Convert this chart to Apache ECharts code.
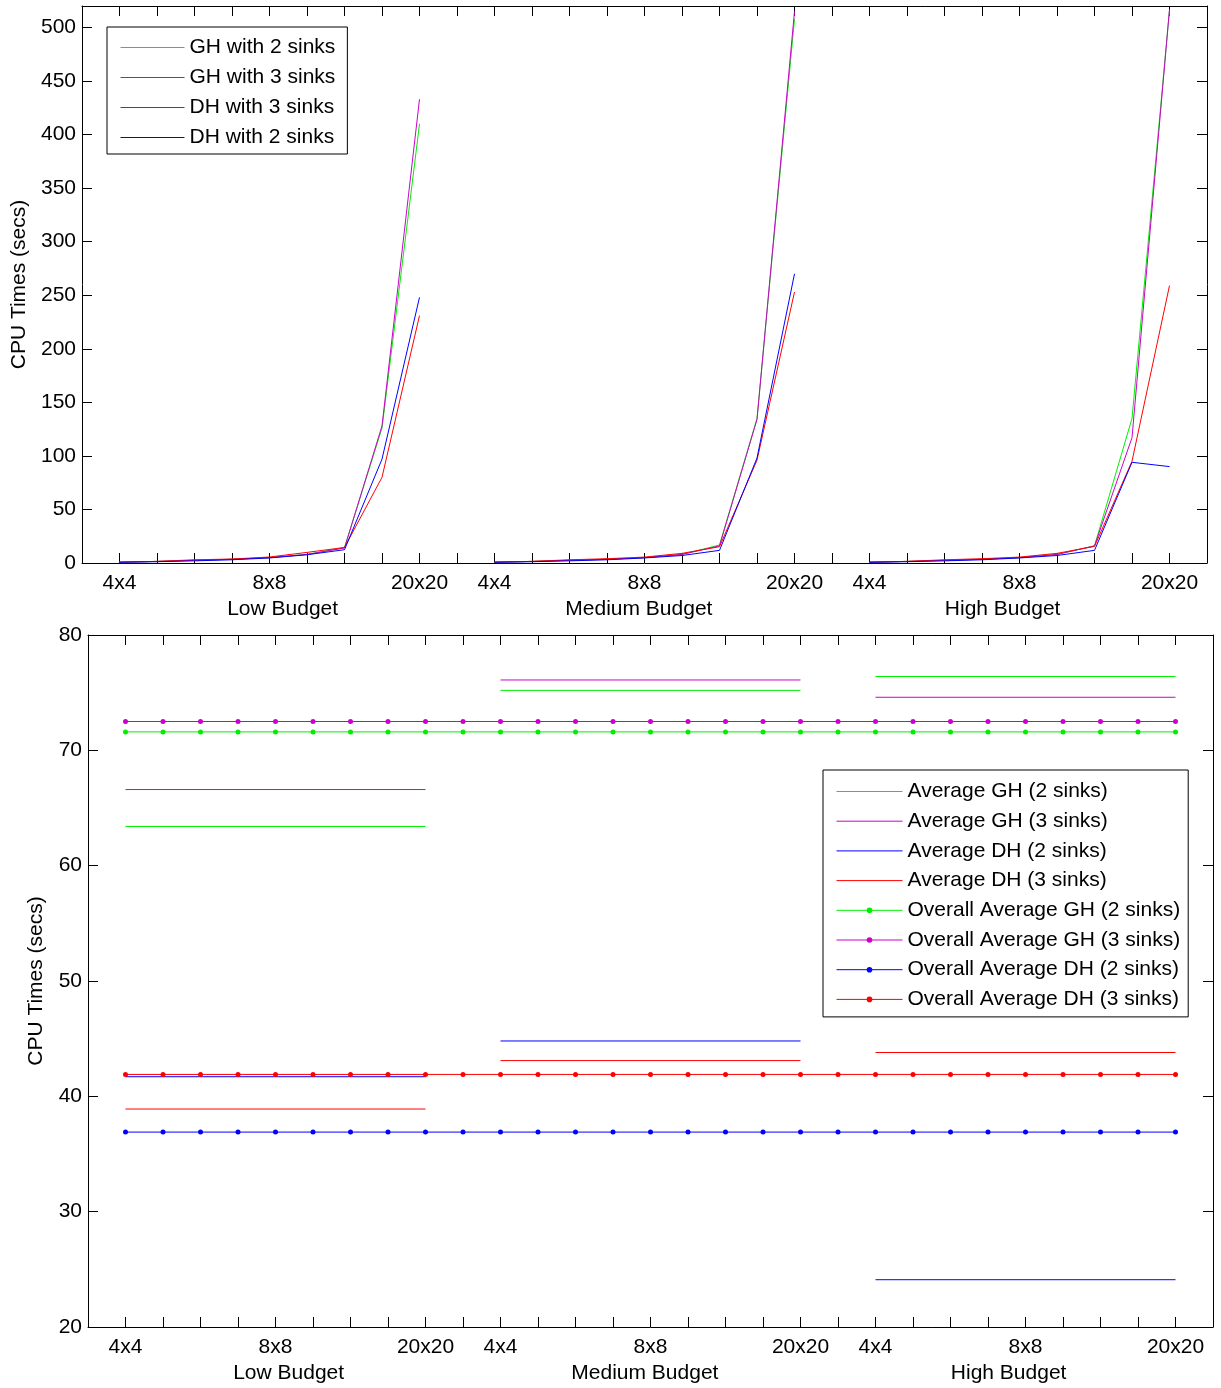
<!DOCTYPE html>
<html><head><meta charset="utf-8">
<script src="https://cdn.jsdelivr.net/npm/echarts@6/dist/echarts.min.js"></script>
<style>html,body{margin:0;padding:0;background:#fff}#c{width:1221px;height:1388px}</style>
</head><body><div id="c"></div>
<script>
// ---- categories / tick labels ----
const sizeLabels = ['4x4', '', '', '', '8x8', '', '', '', '20x20'];
const budgetNames = ['Low Budget', 'Medium Budget', 'High Budget'];
const budgetLabelPos = [4.35, 13.85, 23.55];

// ---- top chart: CPU times per grid size (9 steps per budget) ----
const gh2Low    = [0.8, 1.5, 2.5, 3.5, 5, 8, 14.5, 126, 410];
const gh3Low    = [0.8, 1.5, 2.5, 3.5, 5, 8, 14, 128, 433];
const dh3Low    = [0.8, 1.5, 3, 3.7, 5.6, 9.9, 14.5, 80, 231];
const dh2Low    = [0.7, 1.2, 2, 3, 4.7, 7.7, 12.4, 97, 248];
const gh2Medium = [0.8, 1.5, 2.5, 3.5, 5, 8, 16.8, 135, 508];
const gh3Medium = [0.8, 1.5, 2.5, 3.5, 5, 8, 16, 134, 515];
const dh3Medium = [0.8, 1.5, 3, 4, 5.5, 9, 15.2, 96, 253];
const dh2Medium = [0.7, 1.2, 2, 3, 4.7, 7, 11.8, 98, 270];
const gh2High   = [0.8, 1.5, 2.5, 3.5, 5, 8, 16, 135, 516];
const gh3High   = [0.8, 1.5, 2.5, 3.5, 5, 8, 16, 117, 517];
const dh3High   = [0.8, 1.5, 3, 4, 5.5, 9, 15.5, 95, 259];
const dh2High   = [0.7, 1.2, 2, 3, 4.7, 7, 11.8, 94, 90];

// ---- bottom chart: averages per budget (Low, Medium, High) ----
const avgGH2 = [63.4, 75.2, 76.4];
const avgGH3 = [66.6, 76.1, 74.6];
const avgDH2 = [41.7, 44.8, 24.1];
const avgDH3 = [38.9, 43.1, 43.8];
const overallGH2 = 71.6;
const overallGH3 = 72.5;
const overallDH2 = 36.9;
const overallDH3 = 41.9;

const GREEN = '#00ee00', MAGENTA = '#cc00cc', RED = '#ff0000', BLUE = '#0000ff';
const FONT = 'Liberation Sans, Arial, Helvetica, sans-serif';
const NSTEP = sizeLabels.length;      // 9
const GSTEP = NSTEP + 1;              // 10 (one gap between budgets)
const XMAX = GSTEP * 2 + NSTEP;       // 29

function groupSeriesData(groups) {
  const out = [];
  groups.forEach((arr, g) => {
    arr.forEach((v, i) => out.push([g * GSTEP + i, v]));
    if (g < groups.length - 1) out.push([g * GSTEP + NSTEP, '-']);
  });
  return out;
}
function avgSegments(avgs) {
  const out = [];
  avgs.forEach((v, g) => {
    out.push([g * GSTEP, v]);
    out.push([g * GSTEP + NSTEP - 1, v]);
    if (g < avgs.length - 1) out.push([g * GSTEP + NSTEP, '-']);
  });
  return out;
}
function overallLine(v) {
  const out = [];
  for (let x = 0; x < XMAX; x++) out.push([x, v]);
  return out;
}
function sizeLabel(v) {
  const r = Math.round(v);
  if (r < 0) return '';
  const i = r % GSTEP;
  return i < NSTEP ? sizeLabels[i] : '';
}
function budgetLabel(v) {
  let best = 0;
  budgetLabelPos.forEach((p, k) => { if (Math.abs(p - v) < Math.abs(budgetLabelPos[best] - v)) best = k; });
  return budgetNames[best];
}

const axisLineStyle = { color: '#000', width: 1 };
const labelStyle = { color: '#000', fontSize: 21, fontFamily: FONT };

function xAxes(gridIndex) {
  return [
    { gridIndex, type: 'value', min: -1, max: XMAX, interval: 1, position: 'bottom',
      axisLine: { onZero: false, lineStyle: axisLineStyle },
      axisTick: { inside: true, length: 10, lineStyle: axisLineStyle },
      axisLabel: Object.assign({ margin: 10, formatter: sizeLabel, showMinLabel: true, showMaxLabel: true }, labelStyle),
      splitLine: { show: false } },
    { gridIndex, type: 'value', min: -1, max: XMAX, interval: 1, position: 'top',
      axisLine: { onZero: false, lineStyle: axisLineStyle },
      axisTick: { inside: true, length: 10, lineStyle: axisLineStyle },
      axisLabel: { show: false }, splitLine: { show: false } },
    { gridIndex, type: 'value', min: -1, max: XMAX, position: 'bottom',
      axisLine: { show: false }, axisTick: { show: false }, splitLine: { show: false },
      axisLabel: Object.assign({ margin: 36, customValues: budgetLabelPos, formatter: budgetLabel }, labelStyle) }
  ];
}
function yAxes(gridIndex, min, max, interval, nameGap) {
  return [
    { gridIndex, type: 'value', min, max, interval, position: 'left',
      name: 'CPU Times (secs)', nameLocation: 'middle', nameGap,
      nameTextStyle: { color: '#000', fontSize: 21, fontFamily: FONT },
      axisLine: { show: true, onZero: false, lineStyle: axisLineStyle },
      axisTick: { show: true, inside: true, length: 10, lineStyle: axisLineStyle },
      axisLabel: Object.assign({ margin: 6, formatter: v => (v % interval === 0 ? String(v) : '') }, labelStyle),
      splitLine: { show: false } },
    { gridIndex, type: 'value', min, max, interval, position: 'right',
      axisLine: { show: true, onZero: false, lineStyle: axisLineStyle },
      axisTick: { show: true, inside: true, length: 10, lineStyle: axisLineStyle },
      axisLabel: { show: false }, splitLine: { show: false } }
  ];
}

function lineSeries(name, color, data, xi, yi, dots) {
  return {
    name, type: 'line', xAxisIndex: xi, yAxisIndex: yi, data,
    color, lineStyle: { color, width: 1 },
    itemStyle: { color, borderWidth: 0 },
    symbol: 'circle', symbolSize: 5, showSymbol: !!dots,
    connectNulls: false, animation: false, silent: true, clip: true
  };
}

const topNames = ['GH with 2 sinks', 'GH with 3 sinks', 'DH with 3 sinks', 'DH with 2 sinks'];
const topColors = [GREEN, MAGENTA, RED, BLUE];
const botNames = ['Average GH (2 sinks)', 'Average GH (3 sinks)', 'Average DH (2 sinks)', 'Average DH (3 sinks)',
  'Overall Average GH (2 sinks)', 'Overall Average GH (3 sinks)', 'Overall Average DH (2 sinks)', 'Overall Average DH (3 sinks)'];
const botColors = [GREEN, MAGENTA, BLUE, RED, GREEN, MAGENTA, BLUE, RED];

function legendItem(name, color, dot) {
  return {
    name,
    itemStyle: dot ? { color, borderWidth: 0, opacity: 1 } : { color, borderWidth: 0, opacity: 0 },
    lineStyle: { color, width: 1, opacity: 1 }
  };
}
const legendText = { color: '#000', fontSize: 21, lineHeight: 21, fontFamily: FONT };

const option = {
  backgroundColor: '#fff',
  animation: false,
  textStyle: { fontFamily: FONT },
  grid: [
    { left: 82, right: 14, top: 6, height: 557, containLabel: false },
    { left: 88, right: 8, top: 635, height: 692, containLabel: false }
  ],
  xAxis: xAxes(0).concat(xAxes(1)),
  yAxis: yAxes(0, 0, 520, 50, 52).concat(yAxes(1, 20, 80, 10, 41)),
  legend: [
    { orient: 'vertical', left: 107, top: 27, padding: [10, 12, 6, 13],
      borderColor: '#000', borderWidth: 1, backgroundColor: '#fff',
      itemWidth: 64, itemHeight: 7, itemGap: 9,
      textStyle: legendText, lineStyle: { width: 1 },
      data: topNames.map((n, k) => legendItem(n, topColors[k], false)) },
    { orient: 'vertical', left: 823, top: 770, padding: [11, 8, 7, 13],
      borderColor: '#000', borderWidth: 1, backgroundColor: '#fff',
      itemWidth: 66, itemHeight: 7, itemGap: 8.7,
      textStyle: legendText, lineStyle: { width: 1 },
      data: botNames.map((n, k) => legendItem(n, botColors[k], k >= 4)) }
  ],
  series: [
    lineSeries(topNames[0], GREEN, groupSeriesData([gh2Low, gh2Medium, gh2High]), 0, 0),
    lineSeries(topNames[1], MAGENTA, groupSeriesData([gh3Low, gh3Medium, gh3High]), 0, 0),
    lineSeries(topNames[2], RED, groupSeriesData([dh3Low, dh3Medium, dh3High]), 0, 0),
    lineSeries(topNames[3], BLUE, groupSeriesData([dh2Low, dh2Medium, dh2High]), 0, 0),
    lineSeries(botNames[0], GREEN, avgSegments(avgGH2), 3, 2),
    lineSeries(botNames[1], MAGENTA, avgSegments(avgGH3), 3, 2),
    lineSeries(botNames[2], BLUE, avgSegments(avgDH2), 3, 2),
    lineSeries(botNames[3], RED, avgSegments(avgDH3), 3, 2),
    lineSeries(botNames[4], GREEN, overallLine(overallGH2), 3, 2, true),
    lineSeries(botNames[5], MAGENTA, overallLine(overallGH3), 3, 2, true),
    lineSeries(botNames[6], BLUE, overallLine(overallDH2), 3, 2, true),
    lineSeries(botNames[7], RED, overallLine(overallDH3), 3, 2, true)
  ]
};

const chart = echarts.init(document.getElementById('c'), null, { renderer: 'canvas' });
chart.setOption(option);
</script>
</body></html>
